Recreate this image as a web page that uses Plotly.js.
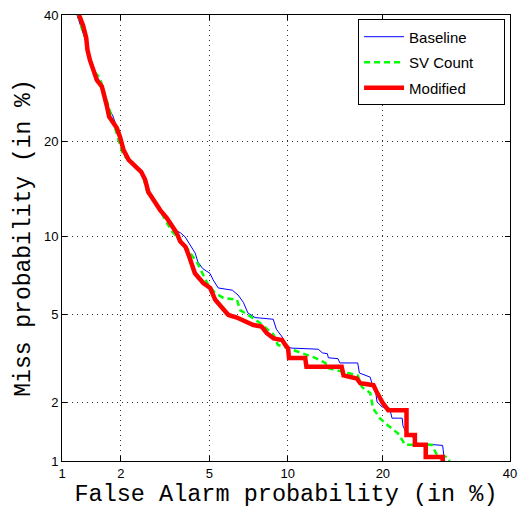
<!DOCTYPE html>
<html>
<head>
<meta charset="utf-8">
<script src="https://cdn.plot.ly/plotly-3.0.1.min.js"></script>
<style>html,body{margin:0;padding:0;background:#fff;}#chart{width:520px;height:517px;}</style>
</head>
<body>
<div id="chart"></div>
<script>
// Tick labels (percent)
const tickValues = [1, 2, 5, 10, 20, 40];
const tickLabels = ["1", "2", "5", "10", "20", "40"];
const seriesNames = ["Baseline", "SV Count", "Modified"];

// Baseline (False alarm %, Miss %)
const baselineFA = [1.2,1.28,1.34,1.37,1.43,1.5,1.56,1.63,1.69,1.74,1.82,1.89,1.95,2.02,2.15,2.3,2.47,2.58,2.67,2.82,2.99,3.22,3.39,3.6,3.76,3.95,4.15,4.36,4.48,4.7,5.03,5.19,5.44,6.2,6.53,6.85,7.13,7.59,8.87,9.1,9.56,9.95,10.35,12.7,13.1,13.6,13.7,14.7,14.9,16.9,17.1,18.4,18.6,19.0,19.25,19.9,20.9,21.2,22.6,22.7,23.3,24.1,24.7,28.6,28.9];
const baselineMiss = [40,37.3,35.2,33,31.3,29.7,28.9,27.7,26.1,24.6,23.6,22.3,20.9,19.4,18.0,17.3,16.4,15.4,14.3,13.5,12.8,11.6,10.95,10.45,10.3,9.94,9.3,8.7,8.05,7.6,7.3,6.88,6.4,6.27,6.0,5.6,5.07,4.85,4.77,4.33,4.0,3.61,3.58,3.54,3.41,3.38,3.24,3.21,3.07,3.07,2.76,2.64,2.48,2.37,2.01,1.9,1.87,1.67,1.67,1.53,1.37,1.34,1.24,1.21,1.0];

// SV Count
const svFA = [1.22,1.28,1.34,1.4,1.48,1.57,1.63,1.7,1.76,1.86,1.93,1.98,2.05,2.17,2.34,2.52,2.67,2.85,3.06,3.22,3.46,3.76,4.0,4.25,4.45,4.68,4.9,5.29,5.71,6.47,6.65,7.27,7.93,8.87,9.22,10.45,11.3,12.4,13.4,13.6,15.8,16.9,17.4,18.4,18.75,19.6,20.7,22.0,23.0,26.9,27.7,29.4,29.7];
const svMiss = [40,37.3,35.6,32.2,30.2,29.3,27.7,25.8,24.4,22.0,20.6,19.3,18.3,17.7,17.0,16.3,14.1,13.3,12.3,11.4,10.4,9.7,9.15,8.46,8.0,7.3,6.69,6.1,5.84,5.74,5.21,4.91,4.6,4.12,3.7,3.51,3.38,3.24,3.07,2.91,2.76,2.69,2.37,2.22,1.87,1.67,1.53,1.4,1.22,1.22,1.08,1.05,1.0];

// Modified
const modFA = [1.23,1.29,1.34,1.36,1.4,1.45,1.52,1.61,1.67,1.71,1.75,1.83,1.91,1.98,2.06,2.18,2.35,2.5,2.61,2.7,2.85,3.06,3.28,3.45,3.63,3.76,3.96,4.08,4.15,4.35,4.72,5.04,5.29,5.65,5.98,6.46,7.05,7.48,8.03,8.4,8.9,9.55,9.8,10.02,10.1,11.49,11.6,15.1,15.3,16.8,17.2,18.8,19.2,19.6,20.0,20.7,23.2,23.2,24.4,24.4,26.0,26.0,28.6,28.6];
const modMiss = [40,38.2,36,33.9,32.2,30.5,28.9,27.9,26.3,24.8,23.4,22.7,21.8,20.6,18.9,17.7,16.9,16.3,15.4,14.1,13.3,12.3,11.56,10.8,10.25,9.57,9.17,8.6,8.2,7.3,6.69,6.4,5.74,5.31,4.97,4.85,4.66,4.51,4.44,4.16,3.95,3.89,3.7,3.57,3.23,3.23,2.95,2.95,2.69,2.6,2.47,2.42,2.25,2.1,1.98,1.83,1.83,1.37,1.37,1.22,1.22,1.05,1.05,1.0];

// inverse standard normal CDF (Acklam) for the DET (normal deviate) scale
function probit(p) {
  const a=[-39.69683028665376,220.9460984245205,-275.9285104469687,138.3577518672690,-30.66479806614716,2.506628277459239];
  const b=[-54.47609879822406,161.5858368580409,-155.6989798598866,66.80131188771972,-13.28068155288572];
  const c=[-0.007784894002430293,-0.3223964580411365,-2.400758277161838,-2.549732539343734,4.374664141464968,2.938163982698783];
  const d=[0.007784695709041462,0.3224671290700398,2.445134137142996,3.754408661907416];
  const pl=0.02425, ph=1-pl;
  let q,r;
  if (p<pl){q=Math.sqrt(-2*Math.log(p));return (((((c[0]*q+c[1])*q+c[2])*q+c[3])*q+c[4])*q+c[5])/((((d[0]*q+d[1])*q+d[2])*q+d[3])*q+1);}
  if (p<=ph){q=p-0.5;r=q*q;return (((((a[0]*r+a[1])*r+a[2])*r+a[3])*r+a[4])*r+a[5])*q/(((((b[0]*r+b[1])*r+b[2])*r+b[3])*r+b[4])*r+1);}
  q=Math.sqrt(-2*Math.log(1-p));return -(((((c[0]*q+c[1])*q+c[2])*q+c[3])*q+c[4])*q+c[5])/((((d[0]*q+d[1])*q+d[2])*q+d[3])*q+1);
}
const pt = arr => arr.map(v => probit(v/100));
const pad = '\u00a0'.repeat(6);

const traces = [
  {x: pt(baselineFA), y: pt(baselineMiss), mode:'lines', name: seriesNames[0] + pad, legendgroup:'a',
   line:{color:'#0000ff', width:1}},
  {x: pt(svFA), y: pt(svMiss), mode:'lines', name: seriesNames[1] + pad, legendgroup:'b',
   line:{color:'#00ff00', width:2.5, dash:'6px,4px'}},
  {x: pt(modFA), y: pt(modMiss), mode:'lines', name: seriesNames[2] + pad, legendgroup:'c',
   line:{color:'#ff0000', width:4.5}}
];

const tv = tickValues.map(v => probit(v/100));
const rng = [probit(tickValues[0]/100), probit(tickValues[tickValues.length-1]/100)];
const axisCommon = {
  range: rng, tickmode:'array', tickvals: tv, ticktext: tickLabels,
  showgrid:true, gridcolor:'#333', gridwidth:1, griddash:'1px,4px',
  showline:true, linecolor:'#000', linewidth:1, mirror:'ticks',
  ticks:'inside', ticklen:5, tickcolor:'#000', zeroline:false,
  tickfont:{family:'Liberation Sans, Arial, sans-serif', size:13, color:'#000'}
};

const layout = {
  width:520, height:517,
  margin:{l:62, r:10, t:15, b:56},
  paper_bgcolor:'#fff', plot_bgcolor:'#fff',
  showlegend:true,
  xaxis: Object.assign({}, axisCommon, {
    title:{text:'False Alarm probability (in %)', font:{family:'Liberation Mono, Courier New, monospace', size:23.5, color:'#000'}, standoff:3}
  }),
  yaxis: Object.assign({}, axisCommon, {
    title:{text:'Miss probability (in %)', font:{family:'Liberation Mono, Courier New, monospace', size:23, color:'#000'}, standoff:6}
  }),
  legend:{
    x:0.989, xanchor:'right', y:0.99, yanchor:'top',
    bgcolor:'#fff', bordercolor:'#000', borderwidth:1,
    font:{family:'Liberation Sans, Arial, sans-serif', size:15, color:'#000'},
    traceorder:'grouped', tracegroupgap:3,
    itemwidth:40
  }
};

Plotly.newPlot('chart', traces, layout, {displayModeBar:false, staticPlot:true});
</script>
</body>
</html>
